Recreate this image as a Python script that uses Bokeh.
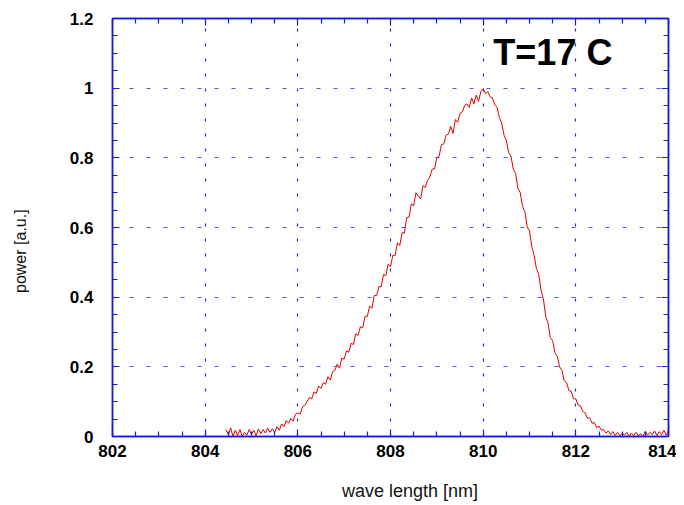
import math
from bokeh.plotting import figure
from bokeh.models import Range1d, LinearAxis, FixedTicker, Label, Grid
from bokeh.embed import file_html
from bokeh.resources import INLINE

# ---- data ----
wave_nm = [
    804.45, 804.50, 804.55, 804.60, 804.65, 804.70, 804.75, 804.80, 804.85, 804.90,
    804.95, 805.00, 805.05, 805.10, 805.15, 805.20, 805.25, 805.30, 805.35, 805.40,
    805.45, 805.50, 805.55, 805.60, 805.65, 805.70, 805.75, 805.80, 805.85, 805.90,
    805.95, 806.00, 806.05, 806.10, 806.15, 806.20, 806.25, 806.30, 806.35, 806.40,
    806.45, 806.50, 806.55, 806.60, 806.65, 806.70, 806.75, 806.80, 806.85, 806.90,
    806.95, 807.00, 807.05, 807.10, 807.15, 807.20, 807.25, 807.30, 807.35, 807.40,
    807.45, 807.50, 807.55, 807.60, 807.65, 807.70, 807.75, 807.80, 807.85, 807.90,
    807.95, 808.00, 808.05, 808.10, 808.15, 808.20, 808.25, 808.30, 808.35, 808.40,
    808.45, 808.50, 808.55, 808.60, 808.65, 808.70, 808.75, 808.80, 808.85, 808.90,
    808.95, 809.00, 809.05, 809.10, 809.15, 809.20, 809.25, 809.30, 809.35, 809.40,
    809.45, 809.50, 809.55, 809.60, 809.65, 809.70, 809.75, 809.80, 809.85, 809.90,
    809.95, 810.00, 810.05, 810.10, 810.15, 810.20, 810.25, 810.30, 810.35, 810.40,
    810.45, 810.50, 810.55, 810.60, 810.65, 810.70, 810.75, 810.80, 810.85, 810.90,
    810.95, 811.00, 811.05, 811.10, 811.15, 811.20, 811.25, 811.30, 811.35, 811.40,
    811.45, 811.50, 811.55, 811.60, 811.65, 811.70, 811.75, 811.80, 811.85, 811.90,
    811.95, 812.00, 812.05, 812.10, 812.15, 812.20, 812.25, 812.30, 812.35, 812.40,
    812.45, 812.50, 812.55, 812.60, 812.65, 812.70, 812.75, 812.80, 812.85, 812.90,
    812.95, 813.00, 813.05, 813.10, 813.15, 813.20, 813.25, 813.30, 813.35, 813.40,
    813.45, 813.50, 813.55, 813.60, 813.65, 813.70, 813.75, 813.80, 813.85, 813.90,
    813.95, 814.00,
]
power = [
    0.020, 0.005, 0.025, 0.000, 0.018, 0.003, 0.020, 0.000, 0.012, 0.004,
    0.020, 0.006, 0.018, 0.002, 0.022, 0.008, 0.020, 0.010, 0.024, 0.012,
    0.022, 0.012, 0.028, 0.018, 0.036, 0.028, 0.046, 0.038, 0.052, 0.044,
    0.064, 0.068, 0.064, 0.085, 0.090, 0.100, 0.112, 0.108, 0.128, 0.124,
    0.145, 0.138, 0.155, 0.150, 0.172, 0.162, 0.186, 0.190, 0.208, 0.196,
    0.225, 0.222, 0.246, 0.242, 0.268, 0.264, 0.295, 0.290, 0.315, 0.312,
    0.345, 0.345, 0.375, 0.368, 0.405, 0.405, 0.430, 0.430, 0.465, 0.462,
    0.495, 0.488, 0.520, 0.520, 0.556, 0.548, 0.585, 0.584, 0.628, 0.630,
    0.668, 0.662, 0.700, 0.690, 0.682, 0.720, 0.715, 0.735, 0.745, 0.768,
    0.768, 0.800, 0.805, 0.838, 0.840, 0.865, 0.868, 0.890, 0.870, 0.910,
    0.902, 0.928, 0.932, 0.950, 0.955, 0.945, 0.972, 0.955, 0.980, 0.962,
    0.990, 0.998, 0.985, 0.990, 0.975, 0.972, 0.952, 0.945, 0.915, 0.900,
    0.865, 0.850, 0.815, 0.805, 0.768, 0.755, 0.712, 0.700, 0.660, 0.645,
    0.602, 0.590, 0.545, 0.520, 0.482, 0.465, 0.418, 0.395, 0.345, 0.325,
    0.284, 0.275, 0.240, 0.230, 0.200, 0.190, 0.160, 0.155, 0.132, 0.130,
    0.108, 0.108, 0.090, 0.088, 0.072, 0.068, 0.052, 0.054, 0.038, 0.040,
    0.025, 0.030, 0.018, 0.020, 0.010, 0.016, 0.006, 0.014, 0.003, 0.012,
    0.002, 0.010, 0.004, 0.012, 0.000, 0.010, 0.003, 0.012, 0.002, 0.008,
    0.000, 0.015, 0.004, 0.012, 0.006, 0.016, 0.003, 0.014, 0.005, 0.018,
    0.004, 0.016,
]

x_ticks = [802, 804, 806, 808, 810, 812, 814]
x_minor = [802.5, 803, 803.5, 804.5, 805, 805.5, 806.5, 807, 807.5, 808.5, 809, 809.5,
           810.5, 811, 811.5, 812.5, 813, 813.5]
y_ticks = [0, 0.2, 0.4, 0.6, 0.8, 1, 1.2]
y_tick_labels = ["0", "0.2", "0.4", "0.6", "0.8", "1", "1.2"]
y_minor = [0.05, 0.1, 0.15, 0.25, 0.3, 0.35, 0.45, 0.5, 0.55, 0.65, 0.7, 0.75,
           0.85, 0.9, 0.95, 1.05, 1.1, 1.15]
annotation = "T=17 C"
x_title = "wave length [nm]"
y_title = "power [a.u.]"
# where the axis titles sit along their axes in the reference (off-centre)
x_title_at = 808.42
y_title_at = 0.652

AXIS_BLUE = "#1a1ad6"
FONT = "Liberation Sans"

p = figure(width=676, height=503, output_backend="svg", toolbar_location=None,
           x_range=Range1d(802, 814), y_range=Range1d(0, 1.2),
           x_axis_type=None, y_axis_type=None,
           min_border_left=112, min_border_right=8, min_border_top=18, min_border_bottom=66)
p.outline_line_color = AXIS_BLUE
p.outline_line_width = 1.5
p.background_fill_color = "white"
p.border_fill_color = "white"

xt = FixedTicker(ticks=x_ticks, minor_ticks=x_minor)
yt = FixedTicker(ticks=y_ticks, minor_ticks=y_minor)


def style(ax, show_labels):
    ax.axis_line_color = AXIS_BLUE
    ax.axis_line_width = 1.5
    ax.major_tick_line_color = AXIS_BLUE
    ax.minor_tick_line_color = AXIS_BLUE
    ax.major_tick_line_width = 1.2
    ax.minor_tick_line_width = 1.2
    ax.major_tick_in = 7
    ax.major_tick_out = 0
    ax.minor_tick_in = 5
    ax.minor_tick_out = 0
    if show_labels:
        ax.major_label_text_font = FONT
        ax.major_label_text_font_style = "bold"
        ax.major_label_text_font_size = "17px"
        ax.major_label_text_color = "black"
    else:
        ax.major_label_overrides = {t: "" for t in ax.ticker.ticks}
        ax.major_label_standoff = 0


def title_axis(at, text, size, standoff, angle):
    ax = LinearAxis(ticker=FixedTicker(ticks=[at], minor_ticks=[]))
    ax.axis_line_color = None
    ax.major_tick_line_color = None
    ax.minor_tick_line_color = None
    ax.major_tick_in = 0
    ax.major_tick_out = 0
    ax.minor_tick_in = 0
    ax.minor_tick_out = 0
    ax.major_label_overrides = {at: text}
    ax.major_label_standoff = standoff
    ax.major_label_orientation = angle
    ax.major_label_text_font = FONT
    ax.major_label_text_font_style = "normal"
    ax.major_label_text_font_size = size
    ax.major_label_text_color = "#111111"
    return ax


xb = LinearAxis(ticker=xt)
style(xb, True)
xb.major_label_standoff = 8
p.add_layout(xb, "below")

yl = LinearAxis(ticker=yt)
style(yl, True)
yl.major_label_overrides = {t: s for t, s in zip(y_ticks, y_tick_labels)}
yl.major_label_standoff = 19
p.add_layout(yl, "left")

xa = LinearAxis(ticker=xt)
style(xa, False)
p.add_layout(xa, "above")

yr = LinearAxis(ticker=yt)
style(yr, False)
p.add_layout(yr, "right")

# axis titles, off-centre as in the reference
p.add_layout(title_axis(x_title_at, x_title, "18px", 21, "horizontal"), "below")
p.add_layout(title_axis(y_title_at, y_title, "16px", 46, math.pi / 2), "left")

# grids
p.xgrid.grid_line_color = None
p.ygrid.grid_line_color = None
vg = Grid(dimension=0, ticker=xt, grid_line_color="#2a2ac8", grid_line_dash="3 12",
          grid_line_width=1.2)
hg = Grid(dimension=1, ticker=yt, grid_line_color="#5555e6", grid_line_dash="4 13",
          grid_line_width=1.2)
p.add_layout(vg)
p.add_layout(hg)

p.line(wave_nm, power, line_color="#e00000", line_width=1)

p.add_layout(Label(x=810.22, y=1.1025, text=annotation, text_font=FONT,
                   text_font_style="bold", text_font_size="36px", text_color="black",
                   text_baseline="middle", text_align="left"))

open("out.html", "w").write(file_html(p, INLINE))
